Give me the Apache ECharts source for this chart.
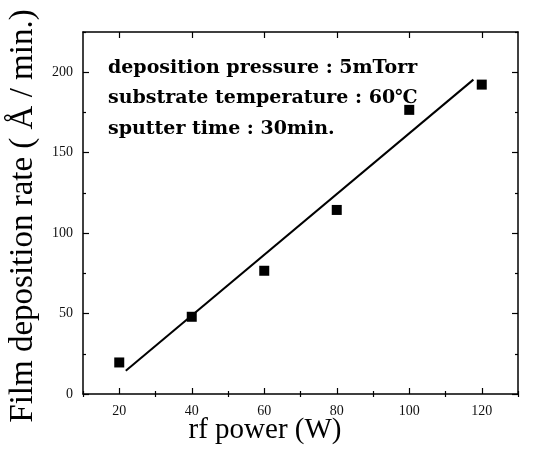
<!DOCTYPE html>
<html>
<head>
<meta charset="utf-8">
<script src="https://cdn.jsdelivr.net/npm/echarts@6/dist/echarts.min.js"></script>
<style>html,body{margin:0;padding:0;background:#fff;}#c{width:547px;height:449px;}</style>
</head>
<body>
<div id="c"></div>
<script>
const power = [20, 40, 60, 80, 100, 120];
const rate = [19.6, 48, 76.6, 114.4, 176.6, 192.3];
const fitX = [21.8, 117.7];
const fitY = [14.4, 195.4];
const xMajor = [20, 40, 60, 80, 100, 120];
const xMinor = [10, 30, 50, 70, 90, 110, 130];
const yMajor = [0, 50, 100, 150, 200];
const yMinor = [25, 75, 125, 175, 225];
const notes = ['deposition pressure : 5mTorr', 'substrate temperature : 60\u2103', 'sputter time : 30min.'];

const chart = echarts.init(document.getElementById('c'));
const serif = 'Liberation Serif';
const line = { show: true, onZero: false, lineStyle: { color: '#000', width: 1.5 } };
function xAx(pos, withLine, ticks, len, labels) {
  return {
    type: 'value', position: pos, min: 10, max: 130, interval: 10,
    axisLine: withLine ? line : { show: false },
    axisTick: { show: true, inside: true, length: len, customValues: ticks, lineStyle: { color: '#000', width: 1.2 } },
    axisLabel: labels ? { show: true, customValues: xMajor, color: '#111', fontFamily: serif, fontSize: 14, margin: 10 } : { show: false },
    splitLine: { show: false }
  };
}
function yAx(pos, withLine, ticks, len, labels) {
  return {
    type: 'value', position: pos, min: 0, max: 225, interval: 25,
    axisLine: withLine ? line : { show: false },
    axisTick: { show: true, inside: true, length: len, customValues: ticks, lineStyle: { color: '#000', width: 1.2 } },
    axisLabel: labels ? { show: true, customValues: yMajor, color: '#111', fontFamily: serif, fontSize: 14, margin: 10 } : { show: false },
    splitLine: { show: false }
  };
}
chart.setOption({
  animation: false,
  backgroundColor: '#fff',
  grid: { left: 83, right: 29, top: 32, bottom: 55 },
  xAxis: [
    xAx('bottom', true, xMajor, 6, true),
    xAx('bottom', false, xMinor, 3, false),
    xAx('top', true, xMajor, 6, false),
    xAx('top', false, xMinor, 3, false)
  ],
  yAxis: [
    yAx('left', true, yMajor, 6, true),
    yAx('left', false, yMinor, 3, false),
    yAx('right', true, yMajor, 6, false),
    yAx('right', false, yMinor, 3, false)
  ],
  series: [
    {
      type: 'scatter',
      data: power.map((x, i) => [x, rate[i]]),
      symbol: 'rect', symbolSize: 10,
      itemStyle: { color: '#000', opacity: 1 }, z: 3
    },
    {
      type: 'line',
      data: fitX.map((x, i) => [x, fitY[i]]),
      showSymbol: false, symbol: 'none',
      lineStyle: { color: '#000', width: 2 }, z: 2
    }
  ],
  graphic: [
    { type: 'text', left: 108, top: 59, style: { text: notes[0], font: 'bold 19px "DejaVu Serif"', fill: '#000' } },
    { type: 'text', left: 108, top: 89, style: { text: notes[1], font: 'bold 19px "DejaVu Serif"', fill: '#000' } },
    { type: 'text', left: 108, top: 120, style: { text: notes[2], font: 'bold 19px "DejaVu Serif"', fill: '#000' } },
    { type: 'text', x: 265, y: 430, style: { text: 'rf power (W)', font: '29px "Liberation Serif"', fill: '#000', align: 'center', verticalAlign: 'middle' } },
    { type: 'text', x: 23, y: 216, rotation: Math.PI / 2, style: { text: 'Film deposition rate ( \u00C5 / min.)', font: '33px "Liberation Serif"', fill: '#000', align: 'center', verticalAlign: 'middle' } }
  ]
});
</script>
</body>
</html>
